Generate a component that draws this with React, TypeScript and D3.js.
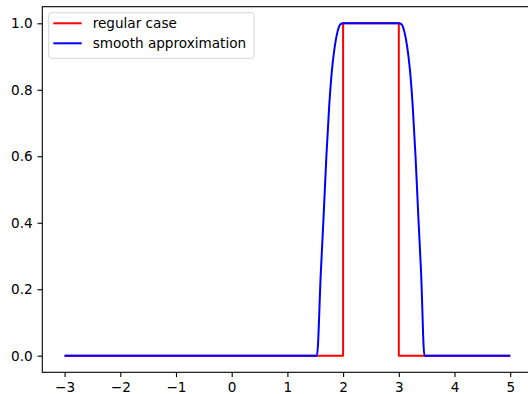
import { useEffect, useRef } from "react"
import * as d3 from "d3"

// step function (regular case)
const regularX = [-3, 2, 2, 3, 3, 5]
const regularY = [0, 0, 1, 1, 0, 0]

// smooth approximation
const smoothX = [-3, 1.53, 1.6, 1.65, 1.7, 1.75, 1.8, 1.85, 1.9, 1.95, 2.0, 3.0, 3.05, 3.1, 3.15, 3.2, 3.25, 3.3, 3.35, 3.4, 3.46, 5]
const smoothY = [0, 0, 0.25, 0.42, 0.6, 0.75, 0.86, 0.93, 0.975, 0.997, 1.0, 1.0, 0.997, 0.975, 0.93, 0.86, 0.75, 0.6, 0.42, 0.25, 0, 0]

const xTicks = [-3, -2, -1, 0, 1, 2, 3, 4, 5]
const yTicks = [0, 0.2, 0.4, 0.6, 0.8, 1.0]

const legendLabels = ["regular case", "smooth approximation"]
const colors = ["#ff0000", "#0000ff"]

export default function App() {
  const svgRef = useRef<SVGSVGElement>(null)

  useEffect(() => {
    if (!svgRef.current) return
    const width = 528
    const height = 394
    const left = 42.3
    const right = 532.5
    const top = 6.7
    const bottom = 372.3
    const font = "DejaVu Sans, sans-serif"

    const svg = d3.select(svgRef.current).attr("width", width).attr("height", height)
    svg.selectAll("*").remove()

    const x = d3.scaleLinear().domain([-3.4, 5.4]).range([left, right])
    const y = d3.scaleLinear().domain([-0.05, 1.05]).range([bottom, top])

    const stepLine = d3
      .line<[number, number]>()
      .x((d) => x(d[0]))
      .y((d) => y(d[1]))
    const smoothLine = d3
      .line<[number, number]>()
      .x((d) => x(d[0]))
      .y((d) => y(d[1]))
      .curve(d3.curveMonotoneX)

    const series = [
      regularX.map((v, i) => [v, regularY[i]] as [number, number]),
      smoothX.map((v, i) => [v, smoothY[i]] as [number, number]),
    ]

    series.forEach((pts, i) => {
      svg
        .append("path")
        .datum(pts)
        .attr("fill", "none")
        .attr("stroke", colors[i])
        .attr("stroke-width", 2)
        .attr("stroke-linejoin", "round")
        .attr("d", i === 0 ? stepLine : smoothLine)
    })

    // axes
    const xAxis = svg
      .append("g")
      .attr("transform", `translate(0,${bottom})`)
      .call(d3.axisBottom(x).tickValues(xTicks).tickFormat(d3.format("d")).tickSize(4.8).tickPadding(4.8))
    const yAxis = svg
      .append("g")
      .attr("transform", `translate(${left},0)`)
      .call(d3.axisLeft(y).tickValues(yTicks).tickFormat(d3.format(".1f")).tickSize(4.8).tickPadding(4.8))
    ;[xAxis, yAxis].forEach((g) => {
      g.select(".domain").remove()
      g.selectAll("line").attr("stroke", "#000").attr("stroke-width", 1.1)
      g.selectAll("text").attr("fill", "#000").attr("font-family", font).attr("font-size", 13.6)
    })

    // spines
    svg
      .append("rect")
      .attr("x", left)
      .attr("y", top)
      .attr("width", right - left)
      .attr("height", bottom - top)
      .attr("fill", "none")
      .attr("stroke", "#000")
      .attr("stroke-width", 1.1)

    // legend
    const lg = svg.append("g")
    lg.append("rect")
      .attr("x", 48.7)
      .attr("y", 12.7)
      .attr("width", 205.3)
      .attr("height", 45.6)
      .attr("rx", 2.5)
      .attr("fill", "#fff")
      .attr("fill-opacity", 0.8)
      .attr("stroke", "#d6d6d6")
      .attr("stroke-width", 1)
    legendLabels.forEach((label, i) => {
      const ly = 23.3 + i * 20
      lg.append("line")
        .attr("x1", 53.3)
        .attr("x2", 81.7)
        .attr("y1", ly)
        .attr("y2", ly)
        .attr("stroke", colors[i])
        .attr("stroke-width", 2)
      lg.append("text")
        .attr("x", 92.7)
        .attr("y", ly)
        .attr("dy", "0.35em")
        .attr("font-family", font)
        .attr("font-size", 13.6)
        .attr("fill", "#000")
        .text(label)
    })
  }, [])

  return <svg ref={svgRef} style={{ position: "absolute", left: 0, top: 0 }} />
}
